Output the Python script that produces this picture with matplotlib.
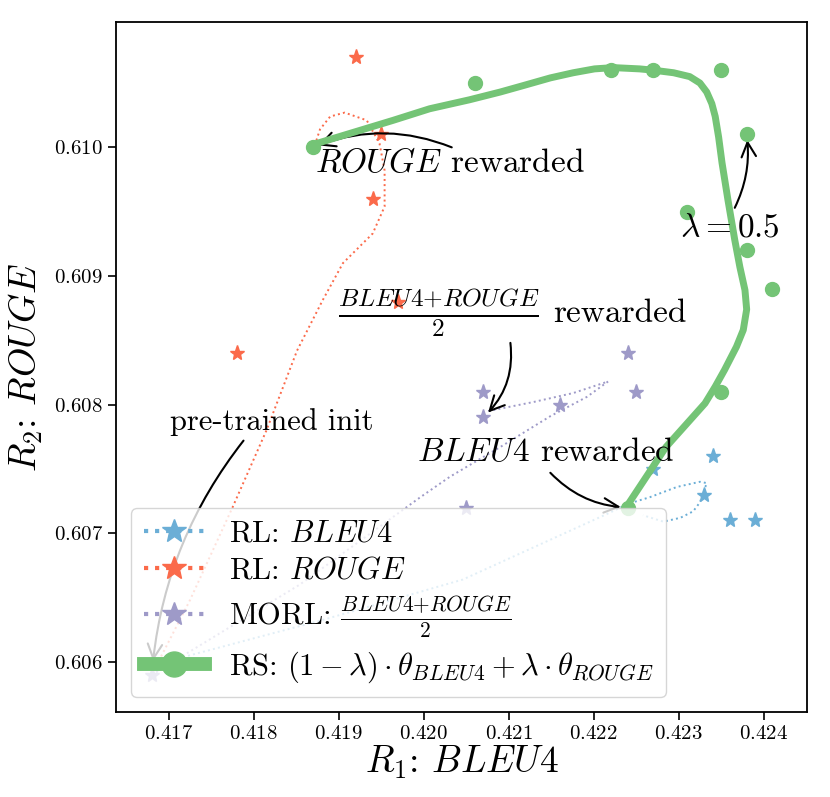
import numpy as np
import matplotlib.pyplot as plt
from matplotlib.lines import Line2D

plt.rcParams['font.family'] = 'serif'
plt.rcParams['font.serif'] = ['cmr10']
plt.rcParams['mathtext.fontset'] = 'cm'
plt.rcParams['axes.formatter.use_mathtext'] = True

BLUE = '#6baed6'
RED = '#fb6a4a'
PURPLE = '#9e9ac8'
GREEN = '#74c476'

# pre-trained init
init_x, init_y = 0.4168, 0.6059

# RL: BLEU4 runs
bleu_x = [0.4234, 0.4233, 0.4236, 0.4239, 0.4227]
bleu_y = [0.6076, 0.6073, 0.6071, 0.6071, 0.6075]
bleu_cx = [0.4168, 0.41713, 0.41878, 0.42046, 0.42219, 0.42241, 0.42266, 0.42298,
           0.42325, 0.42333, 0.42325, 0.42317, 0.42302, 0.42282, 0.42258]
bleu_cy = [0.6059, 0.60603, 0.60632, 0.60664, 0.60716, 0.60723, 0.60728, 0.60736,
           0.60740, 0.60739, 0.60724, 0.60717, 0.60712, 0.60709, 0.60714]

# RL: ROUGE runs
rouge_x = [0.4192, 0.4195, 0.4194, 0.4197, 0.4178]
rouge_y = [0.6107, 0.6101, 0.6096, 0.6088, 0.6084]
rouge_cx = [0.4168, 0.41725, 0.41775, 0.41815, 0.41851, 0.41881, 0.41905, 0.41940,
            0.41954, 0.41954, 0.41948, 0.41933, 0.41907, 0.41890, 0.41878, 0.41872]
rouge_cy = [0.6059, 0.60648, 0.60720, 0.60780, 0.60842, 0.60881, 0.60910, 0.60933,
            0.60954, 0.60982, 0.61003, 0.61021, 0.61027, 0.61024, 0.61014, 0.61002]

# MORL: (BLEU4 + ROUGE) / 2
morl_x = [0.4224, 0.4207, 0.4225, 0.4216, 0.4207, 0.4205]
morl_y = [0.6084, 0.6081, 0.6081, 0.6080, 0.6079, 0.6072]
morl_cx = [0.4168, 0.41854, 0.41996, 0.42031, 0.42090, 0.42149, 0.42192, 0.42217,
           0.42176, 0.42129, 0.42076]
morl_cy = [0.6059, 0.60660, 0.60728, 0.60744, 0.60767, 0.60791, 0.60806, 0.60818,
           0.60809, 0.60802, 0.60795]

# RS: weight interpolation
rs_x = [0.4187, 0.4206, 0.4222, 0.4227, 0.4235, 0.4238, 0.4231, 0.4238, 0.4241, 0.4235, 0.4224]
rs_y = [0.6100, 0.6105, 0.6106, 0.6106, 0.6106, 0.6101, 0.6095, 0.6092, 0.6089, 0.6081, 0.6072]
rs_cx = [0.42240, 0.42285, 0.42331, 0.42343, 0.42354, 0.42368, 0.42376, 0.42380,
         0.42378, 0.42372, 0.42366, 0.42358, 0.42351, 0.42347, 0.42343, 0.42339,
         0.42333, 0.42325, 0.42313, 0.42294, 0.42270, 0.42254, 0.42223, 0.42201,
         0.42176, 0.42149, 0.42117, 0.42090, 0.42054, 0.42007, 0.41964, 0.41919,
         0.41874, 0.41870]
rs_cy = [0.60722, 0.60767, 0.60801, 0.60814, 0.60827, 0.60845, 0.60858, 0.60874,
         0.60889, 0.60907, 0.60928, 0.60959, 0.60988, 0.61008, 0.61024, 0.61034,
         0.61043, 0.61050, 0.61055, 0.61058, 0.61060, 0.61061, 0.61062, 0.61061,
         0.61058, 0.61054, 0.61048, 0.61043, 0.61037, 0.61030, 0.61021, 0.61012,
         0.61003, 0.61000]

fig = plt.figure(figsize=(8.3, 7.97), dpi=100)
ax = fig.add_axes([0.1398, 0.1066, 0.8325, 0.8662])

ax.plot(bleu_cx, bleu_cy, ':', color=BLUE, lw=1.4, zorder=2)
ax.plot(rouge_cx, rouge_cy, ':', color=RED, lw=1.4, zorder=2)
ax.plot(morl_cx, morl_cy, ':', color=PURPLE, lw=1.4, zorder=2)

ax.plot(bleu_x, bleu_y, '*', color=BLUE, ms=11, zorder=3)
ax.plot(rouge_x, rouge_y, '*', color=RED, ms=11, zorder=3)
ax.plot(morl_x, morl_y, '*', color=PURPLE, ms=11, zorder=3)
ax.plot([init_x], [init_y], '*', color=PURPLE, ms=11, zorder=3)

ax.plot(rs_cx, rs_cy, '-', color=GREEN, lw=5, solid_capstyle='round',
        solid_joinstyle='round', zorder=4)
ax.plot(rs_x, rs_y, 'o', color=GREEN, ms=10, zorder=5)

arrow = dict(arrowstyle='->', color='black', lw=1.5, mutation_scale=26, shrinkA=0)
ax.annotate('', xy=(0.4187, 0.6100), xytext=(0.42033, 0.61000),
            arrowprops=dict(arrow, connectionstyle='arc3,rad=0.2', shrinkB=4))
ax.annotate('', xy=(0.4238, 0.6101), xytext=(0.42366, 0.60953),
            arrowprops=dict(arrow, connectionstyle='arc3,rad=0.15', shrinkB=4))
ax.annotate('', xy=(0.4207, 0.6079), xytext=(0.42102, 0.60848),
            arrowprops=dict(arrow, connectionstyle='arc3,rad=-0.25', shrinkB=5))
ax.annotate('', xy=(0.4224, 0.6072), xytext=(0.42149, 0.60747),
            arrowprops=dict(arrow, connectionstyle='arc3,rad=0.2', shrinkB=5))
ax.annotate('', xy=(init_x, init_y), xytext=(0.41788, 0.60772),
            arrowprops=dict(arrow, connectionstyle='arc3,rad=0.15', shrinkB=10))

ax.text(0.41872, 0.60981, '$ROUGE$ rewarded', fontsize=24, zorder=6)
ax.text(0.42302, 0.60931, r'$\lambda = 0.5$', fontsize=24, zorder=6)
ax.text(0.41899, 0.60864, r'$\frac{BLEU4{+}ROUGE}{2}$', fontsize=26, zorder=6)
ax.text(0.42152, 0.60864, 'rewarded', fontsize=24, zorder=6)
ax.text(0.41992, 0.60756, '$BLEU4$ rewarded', fontsize=24, zorder=6)
ax.text(0.41701, 0.60780, 'pre-trained init', fontsize=22, zorder=6)

handles = [
    Line2D([], [], color=BLUE, ls=':', lw=3, marker='*', ms=18),
    Line2D([], [], color=RED, ls=':', lw=3, marker='*', ms=18),
    Line2D([], [], color=PURPLE, ls=':', lw=3, marker='*', ms=18),
    Line2D([], [], color=GREEN, ls='-', lw=10, marker='o', ms=18),
]
labels = ['RL: $BLEU4$', 'RL: $ROUGE$', r'MORL: $\frac{BLEU4{+}ROUGE}{2}$',
          r'RS: $(1-\lambda)\cdot\theta_{BLEU4}+\lambda\cdot\theta_{ROUGE}$']
leg = ax.legend(handles, labels, loc='lower left', fontsize=22, labelspacing=0.3)
leg.set_zorder(10)

ax.set_xlim(0.41638, 0.42451)
ax.set_ylim(0.60561, 0.610977)
ax.set_xticks([0.417, 0.418, 0.419, 0.420, 0.421, 0.422, 0.423, 0.424])
ax.set_yticks([0.606, 0.607, 0.608, 0.609, 0.610])
ax.tick_params(labelsize=15, length=6, width=1.2)
for s in ax.spines.values():
    s.set_linewidth(1.3)
ax.set_xlabel('$R_1$: $BLEU4$', fontsize=27, labelpad=0)
ax.set_ylabel('$R_2$: $ROUGE$', fontsize=27, labelpad=6)

fig.savefig('out.png', dpi=100)
